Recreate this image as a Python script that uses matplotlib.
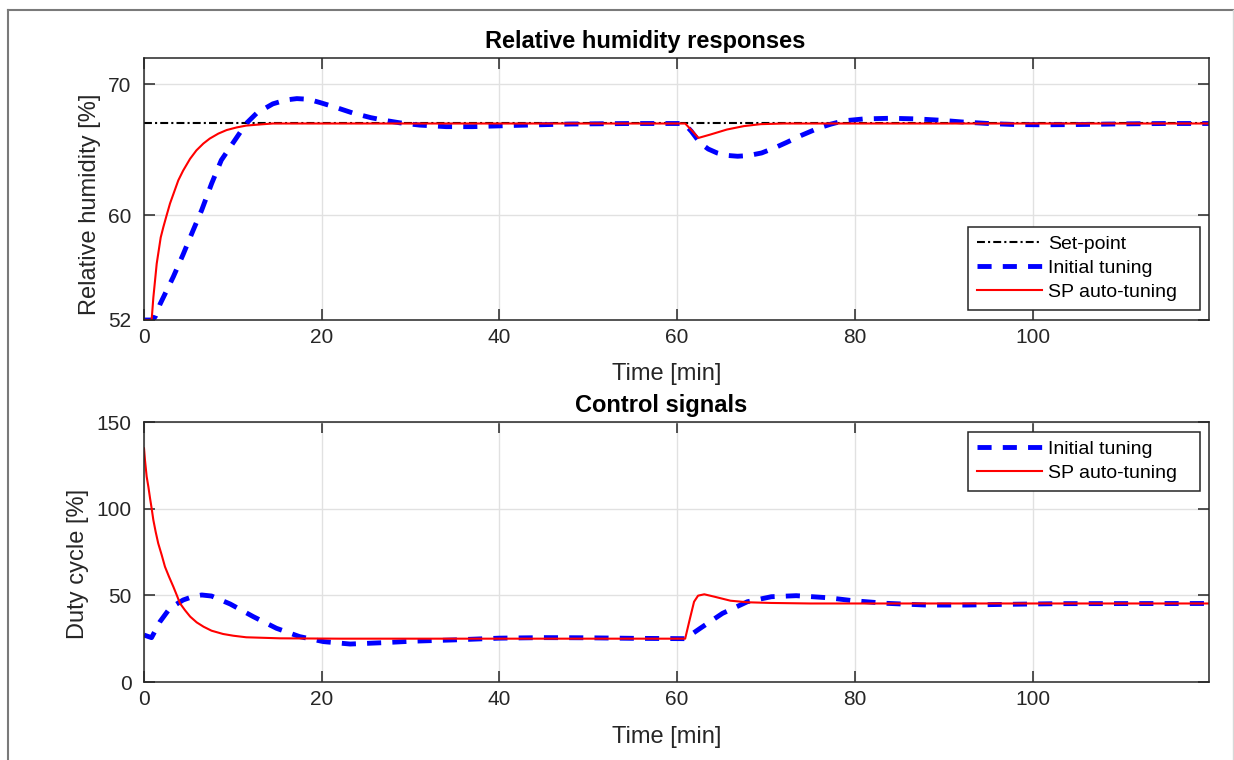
import numpy as np
import matplotlib
matplotlib.use("Agg")
import matplotlib.pyplot as plt
from matplotlib.lines import Line2D

plt.rcParams["font.family"] = ["Liberation Sans", "DejaVu Sans"]

# ---- data ------------------------------------------------------------------
# relative humidity [%]
t_sp = [0, 120]
rh_sp = [67, 67]

t_rh_init = [0, 1.0, 1.3, 1.8, 3.3, 4.4, 5.5, 6.5, 7.6, 8.7, 10.4, 11.5, 12.7,
             14.5, 16.0, 17.2, 18.5, 19.8, 21.5, 23.5, 25.5, 27.0, 28.8, 31.0,
             34.0, 37.0, 42.0, 48.0, 55.0, 60.8, 61.6, 62.6, 63.5, 64.5, 65.5,
             66.8, 68.0, 69.5, 71.0, 72.3, 74.0, 75.9, 77.3, 78.7, 81.0, 84.0,
             87.0, 89.6, 92.0, 95.0, 98.0, 101.0, 105.0, 110.0, 115.0, 120.0]
rh_init = [52, 52, 52.3, 53.2, 55.3, 57.0, 58.8, 60.4, 62.4, 64.2, 65.9, 67.0,
           67.8, 68.5, 68.8, 68.9, 68.85, 68.6, 68.25, 67.8, 67.45, 67.25, 67.05,
           66.88, 66.76, 66.76, 66.86, 66.96, 67.0, 67.0, 66.4, 65.5, 65.05,
           64.75, 64.57, 64.5, 64.55, 64.75, 65.15, 65.55, 66.1, 66.65, 66.95,
           67.2, 67.35, 67.4, 67.35, 67.25, 67.12, 67.0, 66.92, 66.9, 66.92,
           66.97, 67.0, 67.0]

t_rh_auto = [0, 0.86, 1.05, 1.24, 1.43, 1.88, 2.18, 2.55, 2.93, 3.3, 3.86, 4.4,
             5.18, 5.9, 6.68, 7.4, 8.37, 9.3, 10.43, 11.5, 13.1, 14.5, 20.0,
             60.9, 61.6, 62.4, 63.7, 65.6, 67.5, 69.4, 72.0, 120.0]
rh_auto = [52, 52, 53.7, 55.0, 56.3, 58.3, 59.1, 60.0, 60.9, 61.6, 62.66, 63.4,
           64.3, 64.95, 65.47, 65.85, 66.23, 66.5, 66.7, 66.84, 66.93, 67.0,
           67.0, 67.0, 66.5, 65.9, 66.15, 66.54, 66.8, 66.95, 67.0, 67.0]

# duty cycle [%]
t_u_init = [0, 0.5, 0.85, 1.8, 2.9, 4.4, 5.5, 6.5, 7.6, 9.7, 12.3, 14.9, 17.5,
            20.2, 23.2, 27.0, 30.0, 35.0, 40.0, 45.0, 50.0, 55.0, 60.9, 62.6,
            65.1, 67.9, 70.6, 73.4, 77.0, 79.8, 83.5, 88.0, 92.6, 97.0, 103.0,
            120.0]
u_init = [27.1, 26.2, 25.6, 34.8, 42.5, 47.3, 49.3, 50.2, 49.6, 45.0, 37.7, 31.0,
          26.2, 23.3, 21.9, 22.7, 23.5, 24.3, 25.3, 25.6, 25.5, 25.2, 25.0, 31.0,
          39.6, 46.3, 49.2, 49.8, 48.6, 46.9, 45.4, 44.4, 44.4, 44.8, 45.2, 45.3]

t_u_auto = [0, 0.11, 0.3, 0.49, 0.68, 0.86, 1.05, 1.31, 1.6, 1.99, 2.36, 2.81,
            3.3, 3.68, 4.05, 4.6, 5.2, 5.93, 6.7, 7.6, 8.9, 10.05, 11.5, 13.4,
            15.3, 22.0, 60.9, 61.4, 61.9, 62.35, 63.05, 64.2, 66.0, 67.9, 70.6,
            75.0, 120.0]
u_auto = [134.8, 128.0, 118.5, 112.7, 106.0, 100.2, 93.5, 86.7, 80.0, 73.3, 66.5,
          60.8, 55.0, 50.2, 45.4, 41.5, 37.7, 34.4, 31.9, 29.6, 27.7, 26.7, 25.8,
          25.5, 25.2, 25.0, 25.0, 35.8, 46.3, 49.8, 50.6, 49.2, 46.9, 46.0, 45.6,
          45.3, 45.3]

# ---- styling ---------------------------------------------------------------
DARK = "#262626"
GRID = "#e1e1e1"
TICK_FS = 15
LABEL_FS = 17

fig = plt.figure(figsize=(12.34, 7.60), dpi=100)

# figure frame like the exported MATLAB window
fig.add_artist(Line2D([8 / 1234, 1233 / 1234], [1 - 10 / 760] * 2,
                      transform=fig.transFigure, color="#7a7a7a", lw=1.5))
fig.add_artist(Line2D([8 / 1234] * 2, [0, 1 - 10 / 760],
                      transform=fig.transFigure, color="#7a7a7a", lw=1.5))
fig.add_artist(Line2D([1233 / 1234] * 2, [0, 1 - 10 / 760],
                      transform=fig.transFigure, color="#d8d8d8", lw=1.0))

ax1 = fig.add_axes([144 / 1234, 1 - 320 / 760, 1065 / 1234, 262 / 760])
ax2 = fig.add_axes([144 / 1234, 1 - 682 / 760, 1065 / 1234, 260 / 760])


def style(ax):
    ax.grid(True, color=GRID, lw=1.0)
    ax.set_axisbelow(True)
    for s in ax.spines.values():
        s.set_color(DARK)
        s.set_linewidth(1.1)
    ax.tick_params(direction="in", length=8, width=1.1, top=True, right=True,
                   colors=DARK, labelsize=TICK_FS)
    ax.tick_params(axis="x", pad=6)
    ax.tick_params(axis="y", pad=9)
    ax.set_xlim(0, 119.85)
    ax.set_xticks([0, 20, 40, 60, 80, 100])
    ax.set_xlabel("Time [min]", fontsize=LABEL_FS, color=DARK)


def legend(ax, loc, anchor):
    leg = ax.legend(loc=loc, bbox_to_anchor=anchor, mode="expand",
                    borderaxespad=0, fontsize=14, fancybox=False, framealpha=1,
                    edgecolor=DARK, handlelength=3.35, handletextpad=0.3,
                    labelspacing=0.33, borderpad=0.45)
    leg.get_frame().set_linewidth(1.1)
    for txt in leg.get_texts():
        txt.set_color("black")


dash_blue = (0, (2.9, 2.3))
dashdot = (0, (3.8, 1.5, 1.0, 1.5))

ax1.plot(t_sp, rh_sp, color="black", lw=1.5, ls=dashdot, label="Set-point")
ax1.plot(t_rh_init, rh_init, color="#0000ff", lw=3.5, ls=dash_blue,
         label="Initial tuning")
ax1.plot(t_rh_auto, rh_auto, color="#ff0000", lw=1.5, label="SP auto-tuning")
style(ax1)
ax1.xaxis.set_label_coords(0.491, -0.163)
ax1.set_ylim(52, 72)
ax1.set_yticks([52, 60, 70])
ax1.set_ylabel("Relative humidity [%]", fontsize=LABEL_FS, color=DARK)
ax1.yaxis.set_label_coords(-0.040, 0.44)
ax1.set_title("Relative humidity responses", fontsize=LABEL_FS,
              fontweight="bold", pad=7, x=0.471)
legend(ax1, "lower right", (0.7737, 0.038, 0.2178, 0.3))

ax2.plot(t_u_init, u_init, color="#0000ff", lw=3.5, ls=dash_blue,
         label="Initial tuning")
ax2.plot(t_u_auto, u_auto, color="#ff0000", lw=1.5, label="SP auto-tuning")
style(ax2)
ax2.xaxis.set_label_coords(0.491, -0.169)
ax2.set_ylim(0, 150)
ax2.set_yticks([0, 50, 100, 150])
ax2.set_ylabel("Duty cycle [%]", fontsize=LABEL_FS, color=DARK)
ax2.yaxis.set_label_coords(-0.052, 0.454)
ax2.set_title("Control signals", fontsize=LABEL_FS, fontweight="bold", pad=7,
              x=0.4855)
legend(ax2, "upper right", (0.7737, 0.6, 0.2178, 0.362))

fig.savefig("out.png", dpi=100)
